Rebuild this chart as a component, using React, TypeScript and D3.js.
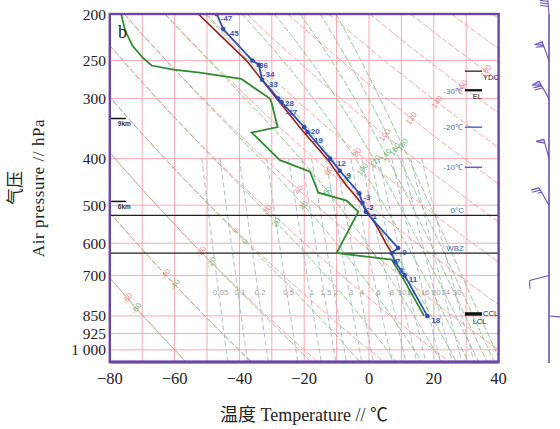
import React, { useEffect, useRef } from "react";
import * as d3 from "d3";

// temperature sounding (blue), hPa / degC
const tempP = [200, 215, 250, 255, 274, 300, 305, 344, 352, 400, 424, 472, 495, 516, 614, 629, 655, 700, 850];
const tempT = [-47, -45, -36, -34, -33, -28, -27, -20, -19, -12, -9, -3, -2, -1, 9, 7, 8, 11, 18];

// dew point (green)
const dewP = [200, 216, 233, 247, 256, 261, 265, 273, 300, 307, 344, 353, 403, 426, 471, 489, 516, 629, 649, 700, 850];
const dewT = [-76.5, -75.3, -73, -69.7, -67.1, -60.4, -52.2, -39.4, -30.6, -30, -28.2, -36.2, -27.5, -18.2, -15.6, -6.9, -3.3, -10, 7, 10, 17];

// parcel curve (dark red)
const parcelP = [629, 600, 550, 500, 450, 400, 350, 300, 250, 200];
const parcelT = [7, 5.2, 2.2, -1.8, -7.5, -13, -20.5, -28.5, -37.8, -52.7];

// wind, m/s
const windP = [200, 250, 300, 400, 500, 700, 850];
const windDir = [355, 340, 330, 345, 330, 255, 95];
const windSpd = [36, 24, 28, 20, 10, 4, 2];

const pTicks = [200, 250, 300, 400, 500, 600, 700, 850, 925, 1000];
const pTickLabels = ["200", "250", "300", "400", "500", "600", "700", "850", "925", "1 000"];
const tTicks = [-80, -60, -40, -20, 0, 20, 40];
const tTickLabels = ["\u221280", "\u221260", "\u221240", "\u221220", "0", "20", "40"];
const isotherms = [-70, -60, -50, -40, -30, -20, -10, 0, 10, 20, 30];
const isobars = [250, 300, 400, 500, 600, 700, 850, 925, 1000];

const dryTheta = [-60, -40, -20, 0, 20, 40, 60, 80, 100, 120, 140, 160, 180, 200, 220];
const moistTheta = [-60, -40, -20, 0, 20, 40, 60, 80, 100, 120, 140, 160, 180];
const mixRatio = [0.05, 0.1, 0.2, 0.5, 1, 1.5, 2, 3, 4, 6, 8, 10, 12, 16, 20, 24, 30];

const levelNames = ["0\u00b0C", "WBZ"];
const levelP = [525, 629];
const isoMarkNames = ["-30\u2103", "-20\u2103", "-10\u2103"];
const isoMarkP = [289, 344, 417];
const sideNames = ["YDC", "EL", "CCL", "LCL"];
const sideP = [263, 288, 839, 845];
const heightNames = ["9km", "6km"];
const heightP = [330, 491];

const esW = (t: number) => 6.112 * Math.exp((17.67 * t) / (t + 243.5));
const thetaE = (t: number, p: number) => {
  const tk = t + 273.15;
  const es = esW(t);
  const ws = (0.622 * es) / (p - es);
  return tk * Math.pow(1000 / p, 0.286) * Math.exp((2.5e6 * ws) / (1004 * tk));
};
const moistT = (th: number, p: number) => {
  let lo = -110, hi = 58;
  const target = th + 273.15;
  for (let i = 0; i < 50; i++) {
    const mid = (lo + hi) / 2;
    if (thetaE(mid, p) > target) hi = mid;
    else lo = mid;
  }
  return (lo + hi) / 2;
};
const mixT = (w: number, p: number) => {
  const es = (w * p) / (622 + w);
  const l = Math.log(es / 6.112);
  const tw = (243.5 * l) / (17.67 - l);
  if (tw >= 0) return tw;
  return (272.62 * l) / (22.46 - l);
};

export default function App() {
  const ref = useRef<SVGSVGElement>(null);

  useEffect(() => {
    const svg = d3.select(ref.current);
    svg.selectAll("*").remove();

    const left = 109.8, right = 498.6, top = 14, bottom = 362;
    const x = d3.scaleLinear().domain([-80, 40]).range([left, right]);
    const y = d3.scaleLog().domain([200, 1060]).range([top, bottom]);
    const line = d3.line<[number, number]>().x((d) => x(d[0])).y((d) => y(d[1]));

    const pAll = d3.range(0, 81).map((i) => 200 * Math.pow(1060 / 200, i / 80));
    const pLow = d3.range(0, 41).map((i) => 400 * Math.pow(1060 / 400, i / 40));

    svg.append("defs").append("clipPath").attr("id", "plotClip")
      .append("rect").attr("x", left).attr("y", top).attr("width", right - left).attr("height", bottom - top);

    const g = svg.append("g").attr("clip-path", "url(#plotClip)");

    // grid
    g.selectAll(".iso").data(isotherms).enter().append("line")
      .attr("x1", (d) => x(d)).attr("x2", (d) => x(d)).attr("y1", top).attr("y2", bottom)
      .attr("stroke", "#f7a9b0").attr("stroke-width", 1);
    g.selectAll(".bar").data(isobars).enter().append("line")
      .attr("x1", left).attr("x2", right).attr("y1", (d) => y(d)).attr("y2", (d) => y(d))
      .attr("stroke", "#f7a9b0").attr("stroke-width", 1);

    // label helper: where a curve crosses a straight guide line
    const crossing = (pts: [number, number][], y0: number, x0: number, k: number) => {
      for (let i = 1; i < pts.length; i++) {
        const a = pts[i - 1], b = pts[i];
        const fa = y(a[1]) - (y0 - k * (x(a[0]) - x0));
        const fb = y(b[1]) - (y0 - k * (x(b[0]) - x0));
        if (fa * fb <= 0) {
          const t = fa / (fa - fb);
          return [x(a[0]) + t * (x(b[0]) - x(a[0])), y(a[1]) + t * (y(b[1]) - y(a[1]))];
        }
      }
      return null;
    };

    // mixing ratio lines
    mixRatio.forEach((w) => {
      const pts = pLow.map((p) => [mixT(w, p), p] as [number, number]);
      g.append("path").attr("d", line(pts)).attr("fill", "none")
        .attr("stroke", "#a3b4c6").attr("stroke-width", 0.9).attr("stroke-dasharray", "5,3");
      g.append("text").attr("x", x(mixT(w, 757)) + 2).attr("y", 295).attr("text-anchor", "middle")
        .attr("font-family", "Liberation Sans, sans-serif").attr("font-size", 8).attr("fill", "#a0a0a0")
        .text(String(w));
    });

    // pseudo-adiabats
    moistTheta.forEach((th) => {
      const pts = pAll.map((p) => [moistT(th, p), p] as [number, number]);
      g.append("path").attr("d", line(pts)).attr("fill", "none")
        .attr("stroke", "#86c186").attr("stroke-width", 0.9).attr("stroke-dasharray", "6,2");
      const c = crossing(pts, 283, 177, 0.615);
      if (c) g.append("text").attr("transform", `translate(${c[0]},${c[1]}) rotate(-55)`)
        .attr("text-anchor", "middle").attr("dy", 3)
        .attr("font-family", "Liberation Sans, sans-serif").attr("font-size", 8).attr("fill", "#74b474")
        .text(String(th));
    });

    // dry adiabats
    dryTheta.forEach((th) => {
      const pts = pAll.map((p) => [(th + 273.15) * Math.pow(p / 1000, 0.286) - 273.15, p] as [number, number]);
      g.append("path").attr("d", line(pts)).attr("fill", "none")
        .attr("stroke", "#ee9090").attr("stroke-width", 0.9).attr("stroke-dasharray", "6,2").attr("opacity", 0.9);
      const c = crossing(pts, 273, 167, 0.635);
      if (c) g.append("text").attr("transform", `translate(${c[0]},${c[1]}) rotate(-55)`)
        .attr("text-anchor", "middle").attr("dy", 3)
        .attr("font-family", "Liberation Sans, sans-serif").attr("font-size", 8).attr("fill", "#ee8a8a")
        .text(String(th));
    });

    // level lines
    levelP.forEach((p, i) => {
      svg.append("line").attr("x1", left).attr("x2", right).attr("y1", y(p)).attr("y2", y(p))
        .attr("stroke", "#222").attr("stroke-width", 1.3);
      svg.append("text").attr("x", 464).attr("y", y(p) - 2).attr("text-anchor", "end")
        .attr("font-family", "Liberation Sans, sans-serif").attr("font-size", 8).attr("fill", "#4a6cc8")
        .text(levelNames[i]);
    });

    // isotherm heights marks on right
    isoMarkP.forEach((p, i) => {
      svg.append("line").attr("x1", x(29.6)).attr("x2", x(34.9)).attr("y1", y(p)).attr("y2", y(p))
        .attr("stroke", "#4a6cc8").attr("stroke-width", 1.5);
      svg.append("text").attr("x", x(29.6) - 2).attr("y", y(p) + 3).attr("text-anchor", "end")
        .attr("font-family", "Liberation Sans, sans-serif").attr("font-size", 8).attr("fill", "#4a6cc8")
        .text(isoMarkNames[i]);
    });
    sideP.forEach((p, i) => {
      const name = sideNames[i];
      svg.append("line").attr("x1", x(29.6)).attr("x2", x(34.9)).attr("y1", y(p)).attr("y2", y(p))
        .attr("stroke", "#111").attr("stroke-width", name === "YDC" ? 1.2 : 2);
      const tx = name === "YDC" || name === "CCL" ? x(35.2) : x(32);
      const ty = name === "CCL" ? y(p) + 3 : y(p) + 9;
      svg.append("text").attr("x", tx).attr("y", ty)
        .attr("font-family", "Liberation Sans, sans-serif").attr("font-size", 7.5).attr("fill", "#222")
        .text(name);
    });
    heightP.forEach((p, i) => {
      svg.append("line").attr("x1", left).attr("x2", left + 16).attr("y1", y(p)).attr("y2", y(p))
        .attr("stroke", "#111").attr("stroke-width", 1.5);
      svg.append("text").attr("x", left + 8).attr("y", y(p) + 8)
        .attr("font-family", "Liberation Sans, sans-serif").attr("font-size", 6.5).attr("font-weight", "bold")
        .attr("fill", "#333").text(heightNames[i]);
    });

    // curves
    const curves = svg.append("g").attr("clip-path", "url(#plotClip)");
    curves.append("path").attr("d", line(dewP.map((p, i) => [dewT[i], p] as [number, number])))
      .attr("fill", "none").attr("stroke", "#2f8c2f").attr("stroke-width", 1.8);
    curves.append("path").attr("d", line(parcelP.map((p, i) => [parcelT[i], p] as [number, number])))
      .attr("fill", "none").attr("stroke", "#9a1c1c").attr("stroke-width", 1.6);
    curves.append("path").attr("d", line(tempP.map((p, i) => [tempT[i], p] as [number, number])))
      .attr("fill", "none").attr("stroke", "#2f4db0").attr("stroke-width", 1.8);
    curves.selectAll(".pt").data(tempP).enter().append("circle")
      .attr("cx", (d, i) => x(tempT[i])).attr("cy", (d) => y(d)).attr("r", 2.3).attr("fill", "#2f4db0");

    // point labels, pushed down a little when two points sit close together
    let prevY = -100;
    tempP.forEach((p, i) => {
      const lx = x(tempT[i]) + 4;
      const ly = Math.max(y(p) + 7, prevY + 9);
      prevY = ly;
      svg.append("text").attr("x", lx).attr("y", ly)
        .attr("font-family", "Liberation Sans, sans-serif").attr("font-size", 8).attr("font-weight", "bold")
        .attr("fill", "#3a55b8").text(String(tempT[i]));
    });

    // frame
    svg.append("rect").attr("x", left).attr("y", top).attr("width", right - left).attr("height", bottom - top)
      .attr("fill", "none").attr("stroke", "#6c44a8").attr("stroke-width", 2.4);
    svg.append("line").attr("x1", left).attr("x2", right).attr("y1", bottom).attr("y2", bottom)
      .attr("stroke", "#6c44a8").attr("stroke-width", 3);

    // axis labels
    svg.selectAll(".yt").data(pTicks).enter().append("text")
      .attr("x", 106).attr("y", (d) => y(d) + 5.5).attr("text-anchor", "end")
      .attr("font-family", "Liberation Serif, serif").attr("font-size", 15.5).attr("fill", "#222")
      .text((d, i) => pTickLabels[i]);
    svg.selectAll(".xt").data(tTicks).enter().append("text")
      .attr("x", (d) => x(d)).attr("y", 384).attr("text-anchor", "middle")
      .attr("font-family", "Liberation Serif, serif").attr("font-size", 16.5).attr("fill", "#222")
      .text((d, i) => tTickLabels[i]);

    svg.append("text").attr("x", 304).attr("y", 421).attr("text-anchor", "middle")
      .attr("font-family", "Liberation Serif, Noto Sans CJK SC, serif").attr("font-size", 18).attr("fill", "#222")
      .text("\u6e29\u5ea6 Temperature // \u2103");
    svg.append("text").attr("transform", "translate(44,188) rotate(-90)").attr("text-anchor", "middle")
      .attr("font-family", "Liberation Serif, serif").attr("font-size", 17).attr("letter-spacing", 0.6)
      .attr("fill", "#222").text("Air pressure // hPa");
    svg.append("text").attr("transform", "translate(21,188) rotate(-90)").attr("text-anchor", "middle")
      .attr("font-family", "Noto Sans CJK SC, sans-serif").attr("font-size", 17).attr("fill", "#222")
      .text("\u6c14\u538b");
    svg.append("text").attr("x", 118).attr("y", 38)
      .attr("font-family", "Liberation Serif, serif").attr("font-size", 18).attr("fill", "#222").text("b");

    // wind barbs
    const wx = 549;
    svg.append("line").attr("x1", wx).attr("x2", wx).attr("y1", top).attr("y2", bottom + 1)
      .attr("stroke", "#6c50b8").attr("stroke-width", 1.6);
    windP.forEach((p, i) => {
      const by = y(p);
      const rad = (windDir[i] * Math.PI) / 180;
      const ux = Math.sin(rad), uy = -Math.cos(rad);
      const px = uy, py = -ux;
      const L = 20, F = 8;
      let d = `M${wx},${by}L${wx + ux * L},${by + uy * L}`;
      let s = windSpd[i], pos = L;
      while (s >= 20) {
        const ax = wx + ux * pos, ay = by + uy * pos;
        const cx = wx + ux * (pos - 4), cy = by + uy * (pos - 4);
        d += `M${ax},${ay}L${ax + px * F},${ay + py * F}L${cx},${cy}Z`;
        pos -= 5; s -= 20;
      }
      while (s >= 4) {
        const ax = wx + ux * pos, ay = by + uy * pos;
        d += `M${ax},${ay}L${ax + px * F + ux * 2},${ay + py * F + uy * 2}`;
        pos -= 2.5; s -= 4;
      }
      if (s >= 2 && windSpd[i] > 2) {
        const ax = wx + ux * pos, ay = by + uy * pos;
        d += `M${ax},${ay}L${ax + px * F * 0.5 + ux},${ay + py * F * 0.5 + uy}`;
      }
      svg.append("path").attr("d", d).attr("fill", "#6c50b8").attr("fill-opacity", 0.35)
        .attr("stroke", "#6c50b8").attr("stroke-width", 1.1);
    });
  }, []);

  return (
    <svg ref={ref} width={560} height={429}
      style={{ position: "absolute", left: 0, top: 0, background: "#fff" }} />
  );
}
